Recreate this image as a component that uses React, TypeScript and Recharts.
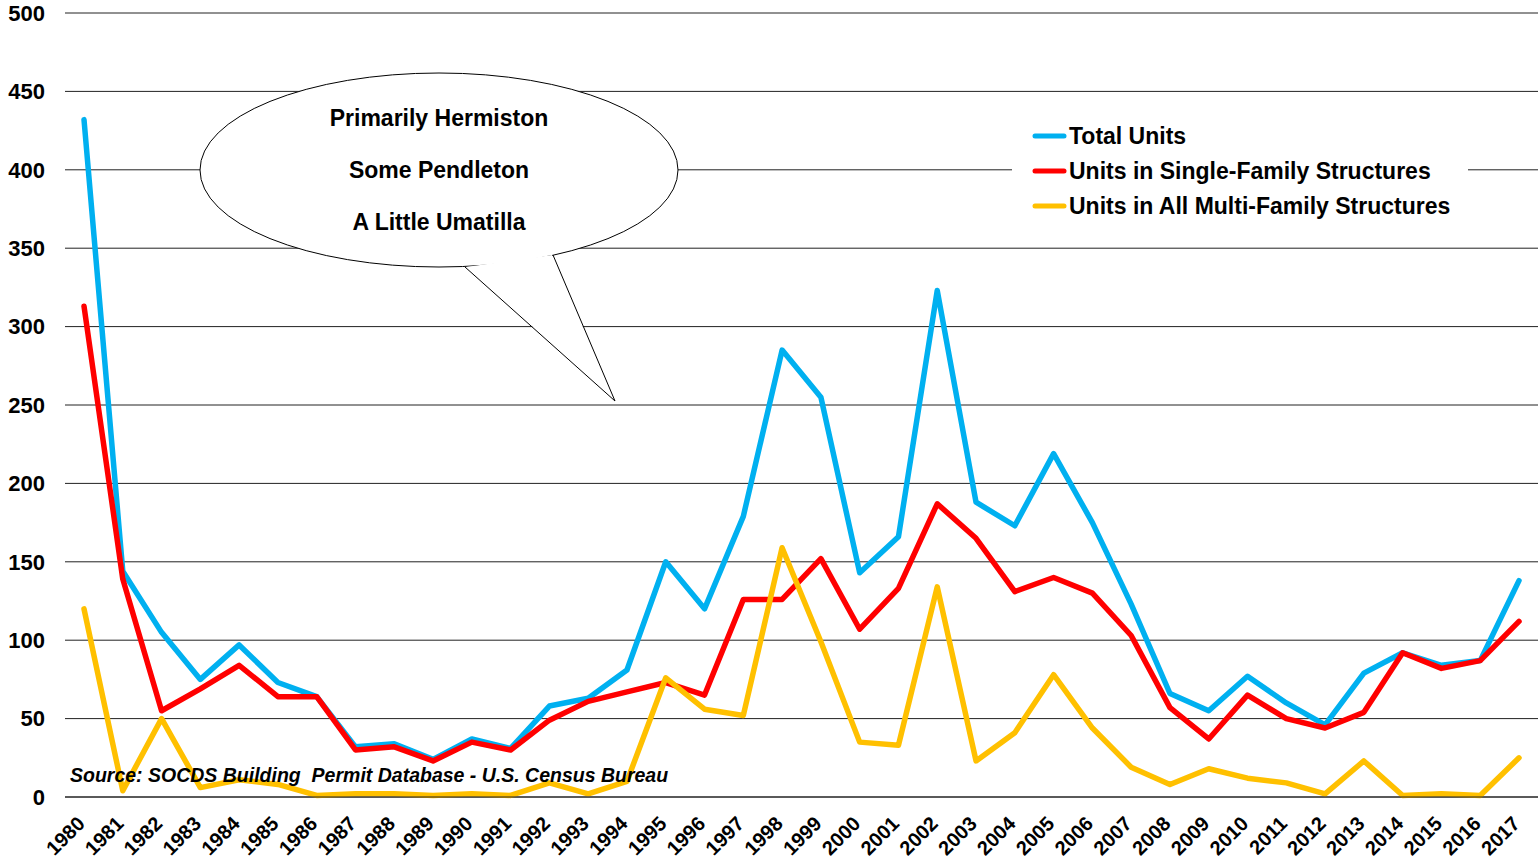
import React from 'react';
import { LineChart, Line, XAxis, YAxis, CartesianGrid } from 'recharts';

const years = [
  '1980', '1981', '1982', '1983', '1984', '1985', '1986', '1987', '1988', '1989',
  '1990', '1991', '1992', '1993', '1994', '1995', '1996', '1997', '1998', '1999',
  '2000', '2001', '2002', '2003', '2004', '2005', '2006', '2007', '2008', '2009',
  '2010', '2011', '2012', '2013', '2014', '2015', '2016', '2017',
];

const totalUnits = [
  432, 144, 105, 75, 97, 73, 64, 32, 34, 24,
  37, 31, 58, 63, 81, 150, 120, 179, 285, 255,
  143, 166, 323, 188, 173, 219, 175, 123, 66, 55,
  77, 60, 46, 79, 92, 84, 87, 138,
];

const singleFamily = [
  313, 139, 55, 69, 84, 64, 64, 30, 32, 23,
  35, 30, 49, 61, 67, 73, 65, 126, 126, 152,
  107, 133, 187, 165, 131, 140, 130, 103, 57, 37,
  65, 50, 44, 54, 92, 82, 87, 112,
];

const multiFamily = [
  120, 4, 50, 6, 11, 8, 1, 2, 2, 1,
  2, 1, 9, 2, 10, 76, 56, 52, 159, 99,
  35, 33, 134, 23, 41, 78, 44, 19, 8, 18,
  12, 9, 2, 23, 1, 2, 1, 25,
];

const yTicks = [0, 50, 100, 150, 200, 250, 300, 350, 400, 450, 500];

const bubbleLines = ['Primarily Hermiston', 'Some Pendleton', 'A Little Umatilla'];

const seriesInfo = [
  { key: 'total', name: 'Total Units', color: '#00B0F0' },
  { key: 'single', name: 'Units in Single-Family Structures', color: '#FF0000' },
  { key: 'multi', name: 'Units in All Multi-Family Structures', color: '#FFC000' },
];

const data = years.map((year, i) => ({
  year,
  total: totalUnits[i],
  single: singleFamily[i],
  multi: multiFamily[i],
}));

const FONT = 'Arial, "Liberation Sans", Helvetica, sans-serif';

const YearTick = (props: any) => {
  const { x, y, payload } = props;
  return (
    <g transform={`translate(${x + 2},${y + 20})`}>
      <text
        transform="rotate(-45)"
        textAnchor="end"
        fontFamily={FONT}
        fontWeight="bold"
        fontSize={20}
        fill="#000"
      >
        {payload.value}
      </text>
    </g>
  );
};

export default function App() {
  return (
    <div style={{ position: 'absolute', left: 0, top: 0, width: 1538, height: 860, background: '#fff', overflow: 'hidden' }}>
      <LineChart
        width={1538}
        height={860}
        data={data}
        margin={{ top: 13, right: 0, bottom: 0, left: 0 }}
      >
        <CartesianGrid vertical={false} stroke="#222" strokeWidth={1} />
        <XAxis
          dataKey="year"
          height={63}
          interval={0}
          padding={{ left: 19, right: 19 }}
          tickLine={false}
          axisLine={{ stroke: '#222' }}
          tick={<YearTick />}
        />
        <YAxis
          width={65}
          domain={[0, 500]}
          ticks={yTicks}
          interval={0}
          axisLine={false}
          tickLine={false}
          tick={{ fontFamily: FONT, fontWeight: 'bold', fontSize: 22, fill: '#000' }}
          tickMargin={14}
        />
        {seriesInfo.map((s) => (
          <Line
            key={s.key}
            type="linear"
            dataKey={s.key}
            name={s.name}
            stroke={s.color}
            strokeWidth={5.5}
            strokeLinejoin="round"
            strokeLinecap="round"
            dot={false}
            activeDot={false}
            isAnimationActive={false}
          />
        ))}
      </LineChart>
      <svg
        width={1538}
        height={860}
        style={{ position: 'absolute', left: 0, top: 0, pointerEvents: 'none' }}
      >
        {/* speech bubble */}
        <ellipse cx={439} cy={170} rx={239} ry={97} fill="#fff" stroke="#000" strokeWidth={1} />
        <path d="M 466 267 L 615 401 L 552 255" fill="#fff" stroke="none" />
        <path d="M 465 267 L 615 401 L 553 255" fill="none" stroke="#000" strokeWidth={1} />
        <g fontFamily={FONT} fontWeight="bold" fontSize={23} fill="#000" textAnchor="middle">
          {bubbleLines.map((t, i) => (
            <text key={t} x={439} y={126 + i * 52}>{t}</text>
          ))}
        </g>

        {/* legend */}
        <rect x={1012} y={118} width={456} height={106} fill="#fff" />
        {seriesInfo.map((s, i) => (
          <g key={s.key}>
            <line
              x1={1035}
              x2={1064}
              y1={136 + i * 35}
              y2={136 + i * 35}
              stroke={s.color}
              strokeWidth={5}
              strokeLinecap="round"
            />
            <text
              x={1069}
              y={144 + i * 35}
              fontFamily={FONT}
              fontWeight="bold"
              fontSize={23}
              fill="#000"
            >
              {s.name}
            </text>
          </g>
        ))}

        <text
          x={70}
          y={782}
          fontFamily={FONT}
          fontWeight="bold"
          fontStyle="italic"
          fontSize={19.5}
          fill="#000"
          style={{ whiteSpace: 'pre' }}
        >
          {'Source: SOCDS Building  Permit Database - U.S. Census Bureau'}
        </text>
      </svg>
    </div>
  );
}
